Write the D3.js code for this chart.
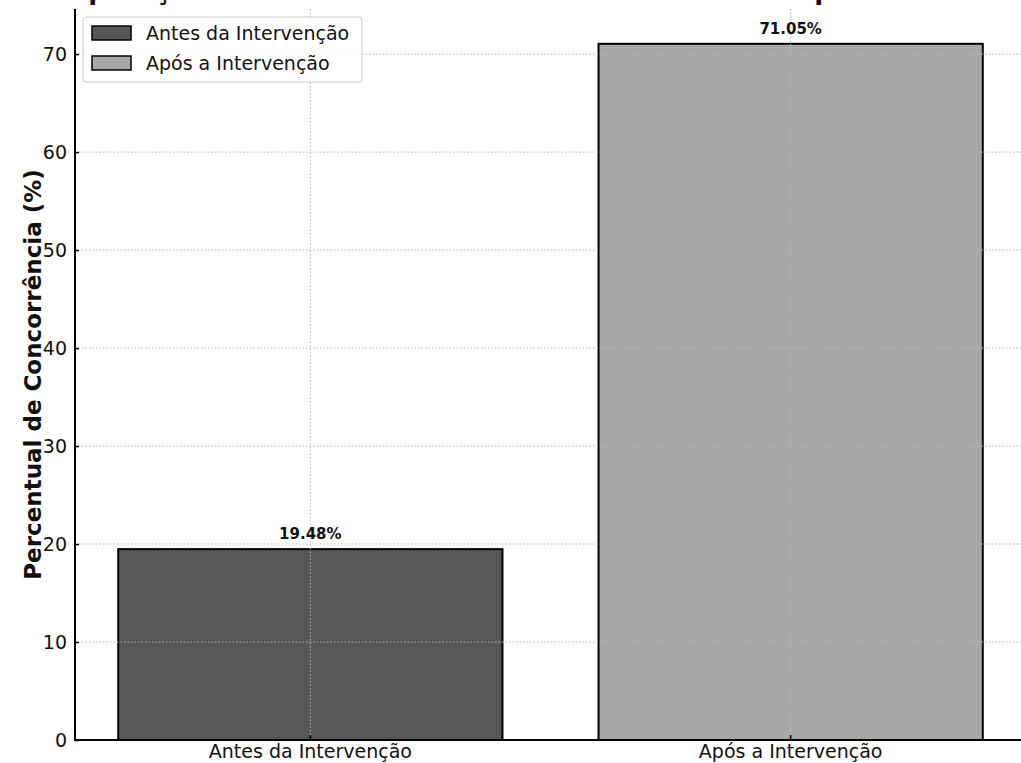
<!DOCTYPE html>
<html>
<head>
<meta charset="utf-8">
<script src="https://cdn.jsdelivr.net/npm/d3@7"></script>
<style>
  html, body { margin: 0; padding: 0; background: #ffffff; }
  svg { display: block; }
  text { font-family: "DejaVu Sans", sans-serif; fill: #111; }
</style>
</head>
<body>
<svg id="chart" width="1021" height="763"></svg>
<script>
// Data
const categories = ["Antes da Intervenção", "Após a Intervenção"];
const values = [19.48, 71.05];
const barColors = ["#575757", "#a8a8a8"];
const yTicks = [0, 10, 20, 30, 40, 50, 60, 70];
const titleText = "Comparação do Percentual de Concorrência Antes e Após a Intervenção";
const yLabel = "Percentual de Concorrência (%)";

const W = 1021, H = 763;
const plot = { left: 75, right: 1026, top: 9, bottom: 740 };

const svg = d3.select("#chart");

const x = d3.scaleBand()
  .domain(categories)
  .range([plot.left, plot.right])
  .paddingInner(0.2)
  .paddingOuter(0.09);

const y = d3.scaleLinear()
  .domain([0, d3.max(values) * 1.05])
  .range([plot.bottom, plot.top]);

// Title (sits above the axes, mostly beyond the top edge of the frame)
svg.append("text")
  .attr("x", (plot.left + plot.right) / 2)
  .attr("y", -1)
  .attr("text-anchor", "middle")
  .style("font-size", "26px")
  .style("font-weight", "bold")
  .text(titleText);

// Bars
svg.append("g")
  .selectAll("rect")
  .data(values)
  .join("rect")
  .attr("x", (d, i) => x(categories[i]))
  .attr("y", d => y(d))
  .attr("width", x.bandwidth())
  .attr("height", d => y(0) - y(d))
  .attr("fill", (d, i) => barColors[i])
  .attr("stroke", "#000")
  .attr("stroke-width", 2);

// Grid (drawn over the bars)
const grid = svg.append("g").attr("class", "grid");
grid.selectAll("line.h")
  .data(yTicks.filter(t => t > 0))
  .join("line")
  .attr("x1", plot.left).attr("x2", plot.right)
  .attr("y1", d => y(d)).attr("y2", d => y(d))
  .attr("stroke", "#b8b8b8")
  .attr("stroke-width", 1)
  .attr("stroke-dasharray", "1.5,2");
grid.selectAll("line.v")
  .data(categories)
  .join("line")
  .attr("x1", d => x(d) + x.bandwidth() / 2).attr("x2", d => x(d) + x.bandwidth() / 2)
  .attr("y1", plot.top).attr("y2", plot.bottom)
  .attr("stroke", "#b8b8b8")
  .attr("stroke-width", 1)
  .attr("stroke-dasharray", "1.5,2");

// Value labels
svg.append("g")
  .selectAll("text")
  .data(values)
  .join("text")
  .attr("x", (d, i) => x(categories[i]) + x.bandwidth() / 2)
  .attr("y", d => y(d) - 10)
  .attr("text-anchor", "middle")
  .style("font-size", "15px")
  .style("font-weight", "bold")
  .text(d => d.toFixed(2) + "%");

// Axes
const yAxis = d3.axisLeft(y)
  .tickValues(yTicks)
  .tickSizeInner(-4)
  .tickSizeOuter(0)
  .tickPadding(8);
const gy = svg.append("g")
  .attr("transform", `translate(${plot.left},0)`)
  .call(yAxis);
gy.select(".domain").attr("stroke", "#000").attr("stroke-width", 2)
  .attr("d", `M0,${plot.top}V${plot.bottom}`);
gy.selectAll(".tick line").attr("stroke", "#000").attr("stroke-width", 1.5);
gy.selectAll(".tick text")
  .style("font-size", "19px")
  .style("font-family", "DejaVu Sans, sans-serif")
  .attr("fill", "#111");

const xAxis = d3.axisBottom(x)
  .tickSizeInner(-5)
  .tickSizeOuter(0)
  .tickPadding(5);
const gx = svg.append("g")
  .attr("transform", `translate(0,${plot.bottom})`)
  .call(xAxis);
gx.select(".domain").attr("stroke", "#000").attr("stroke-width", 2)
  .attr("d", `M${plot.left - 1},0H${plot.right}`);
gx.selectAll(".tick line").attr("stroke", "#000").attr("stroke-width", 1.5);
gx.selectAll(".tick text")
  .style("font-size", "19px")
  .style("font-family", "DejaVu Sans, sans-serif")
  .attr("fill", "#111");

// Y axis title
svg.append("text")
  .attr("transform", `translate(33,${(plot.top + plot.bottom) / 2}) rotate(-90)`)
  .attr("text-anchor", "middle")
  .attr("dominant-baseline", "central")
  .style("font-size", "23px")
  .style("font-weight", "bold")
  .text(yLabel);

// Legend
const legend = svg.append("g").attr("transform", "translate(83,17)");
legend.append("rect")
  .attr("width", 279).attr("height", 65)
  .attr("rx", 3)
  .attr("fill", "#fff")
  .attr("fill-opacity", 0.9)
  .attr("stroke", "#cccccc")
  .attr("stroke-width", 1);
const items = legend.selectAll("g.item")
  .data(categories)
  .join("g")
  .attr("transform", (d, i) => `translate(9,${16 + i * 30})`);
items.append("rect")
  .attr("x", 0).attr("y", -7)
  .attr("width", 39).attr("height", 14)
  .attr("fill", (d, i) => barColors[i])
  .attr("stroke", "#000")
  .attr("stroke-width", 1.5);
items.append("text")
  .attr("x", 54).attr("y", 0)
  .attr("dominant-baseline", "central")
  .style("font-size", "19px")
  .text(d => d);
</script>
</body>
</html>
